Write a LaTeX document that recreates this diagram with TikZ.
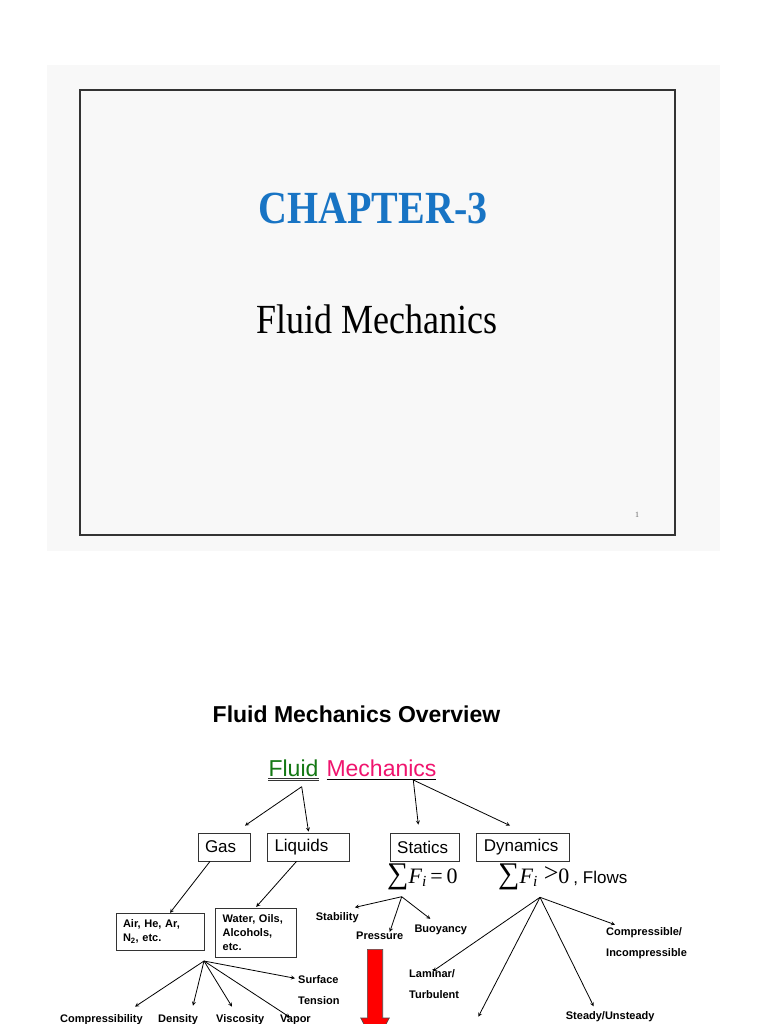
\documentclass[tikz,border=0pt]{standalone}
\usepackage{fontspec}
\setmainfont{Liberation Sans}
\newfontfamily\timesfont{Liberation Serif}
\usepackage{amsmath}
\usepackage{xcolor}
\usetikzlibrary{calc}
\definecolor{slidebg}{RGB}{248,248,248}
\definecolor{chapblue}{RGB}{24,116,196}
\definecolor{fluidgreen}{RGB}{20,120,20}
\definecolor{mechpink}{RGB}{240,20,110}

\begin{document}
\begin{tikzpicture}
[x=1pt,y=-1pt,>=stealth,
conn/.style={->,line width=0.8pt},
box/.style={draw=black!80,line width=0.8pt,inner xsep=7pt,inner ysep=0pt,minimum height=28pt,font=\fontsize{17}{20}\selectfont,align=left},
smallbox/.style={draw=black!80,line width=0.8pt,inner xsep=7pt,inner ysep=0pt,font=\bfseries\fontsize{11}{14}\selectfont,align=left},
lab/.style={font=\bfseries\fontsize{11}{21}\selectfont,align=left,inner sep=0pt,anchor=west},
sumlab/.style={inner sep=0pt,anchor=west,font=\timesfont\fontsize{22}{24}\selectfont},]

\useasboundingbox (0,0) rectangle (768,1024);
\fill[white] (0,0) rectangle (768,1024);

%Title slide
\fill[slidebg] (47,65) rectangle (720,551);
\draw[black!80,line width=1.5pt] (80,90) rectangle (675,535);
\node (CH) at (373,208.5) {\scalebox{1}[1.15]{\timesfont\bfseries\fontsize{40}{44}\selectfont\color{chapblue}CHAPTER-3}};
\node (FM) at (377,319) {\scalebox{1}[1.15]{\timesfont\fontsize{36}{40}\selectfont Fluid Mechanics}};
\node (PG) at (637,515) {\timesfont\fontsize{8}{9}\selectfont\color{black!60}1};

%Overview
\node (T) at (356.5,714.5) {\bfseries\fontsize{23}{26}\selectfont Fluid Mechanics Overview};
\node (F) at (293.5,776)[anchor=base,inner sep=0pt,text=fluidgreen,font=\fontsize{23}{26}\selectfont] {Fluid};
\node (M) at (381.5,776)[anchor=base,inner sep=0pt,text=mechpink,font=\fontsize{23}{26}\selectfont] {Mechanics};
\draw[black!80,line width=0.8pt] (268,778) -- (319,778);
\draw[black!80,line width=0.8pt] (268,780.7) -- (319,780.7);
\draw[black,line width=0.9pt] (326.7,779.3) -- (436,779.3);

\coordinate (FA) at (301.7,786.7);
\coordinate (MA) at (413.3,780);

%Boxes
\node (G) at (224,847)[box,text width=38pt] {Gas};
\node (L) at (308.5,847)[box,text width=68pt] {Liquids};
\node (S) at (424.7,847)[box,text width=55pt] {Statics};
\node (D) at (523.3,847)[box,text width=79pt] {Dynamics};

\draw[conn] (FA) -- ([xshift=21pt,yshift=7pt]G.north);
\draw[conn] (FA) -- ([yshift=1pt]L.north);
\draw[conn] (MA) -- ([xshift=-6.4pt,yshift=8pt]S.north);
\draw[conn] (MA) -- ([xshift=-13.3pt,yshift=7pt]D.north);

%Sums
\node (S1) at (387,877)[sumlab] {{\fontsize{30}{30}\selectfont ∑}{\itshape F}\textsubscript{\itshape i}\,=\,0};
\node (S2) at (498,877)[sumlab] {{\fontsize{30}{30}\selectfont ∑}{\itshape F}\textsubscript{\itshape i}\hspace{6pt}\raisebox{2pt}{\fontsize{26}{26}\selectfont >}0\hspace{4pt}{\normalfont\fontsize{17}{20}\selectfont, Flows}};
\coordinate (SA) at (401.7,896.7);
\coordinate (DA) at (540,897.3);

%Gas and liquids
\node (A) at (160,931.6)[smallbox,text width=74pt,minimum height=36.7pt] {Air, He, Ar,\\N\textsubscript{2}, etc.};
\node (W) at (256.2,932.8)[smallbox,text width=67pt,minimum height=49pt] {Water, Oils,\\Alcohols,\\etc.};
\draw[conn] ([xshift=-14pt]G.south) -- ([xshift=10pt]A.north);
\draw[conn] ([xshift=-12pt]L.south) -- ([yshift=1pt]W.north);

%Statics
\node (St) at (315.7,917.7)[lab] {Stability};
\node (Pr) at (356,936)[lab] {Pressure};
\node (Bu) at (414.3,930)[lab] {Buoyancy};
\draw[conn] (SA) -- ([xshift=-4pt,yshift=5pt]St.north east);
\draw[conn] (SA) -- ([xshift=10pt]Pr.north);
\draw[conn] (SA) -- ([xshift=16pt,yshift=6pt]Bu.north west);

\draw[fill=red,draw=black!70,line width=0.6pt] (367.3,949.3) -- (382.7,949.3) -- (382.7,1018) -- (389.3,1018) -- (375,1045) -- (360.7,1018) -- (367.3,1018) -- cycle;

%Dynamics
\node (Co) at (606,943.5)[lab] {Compressible/\\Incompressible};
\node (La) at (409,983.8)[lab] {Laminar/\\Turbulent};
\node (Sd) at (565.7,1016.7)[lab] {Steady/Unsteady};
\coordinate (X) at (478.3,1016.7);
\draw[conn] (DA) -- ([xshift=9pt,yshift=3pt]Co.north west);
\draw[conn] (DA) -- ([xshift=24pt,yshift=-2pt]La.north west);
\draw[conn] (DA) -- (X);
\draw[conn] (DA) -- ([xshift=28pt,yshift=5pt]Sd.north west);

%Properties
\coordinate (P) at (204,961);
\node (Su) at (298,990.5)[lab] {Surface\\Tension};
\node (Cp) at (60,1020)[lab] {Compressibility};
\node (De) at (158,1020)[lab] {Density};
\node (Vi) at (216,1020)[lab] {Viscosity};
\node (Va) at (280,1020)[lab] {Vapor};
\draw[conn] (P) -- ([xshift=-3pt,yshift=-2.5pt]Su.north west);
\draw[conn] (P) -- ([xshift=75pt,yshift=8pt]Cp.north west);
\draw[conn] (P) -- ([xshift=35pt,yshift=9pt]De.north west);
\draw[conn] (P) -- ([xshift=16pt,yshift=8pt]Vi.north west);
\draw[conn] (P) -- ([xshift=10pt,yshift=-2.5pt]Va.north west);

\end{tikzpicture}
\end{document}
